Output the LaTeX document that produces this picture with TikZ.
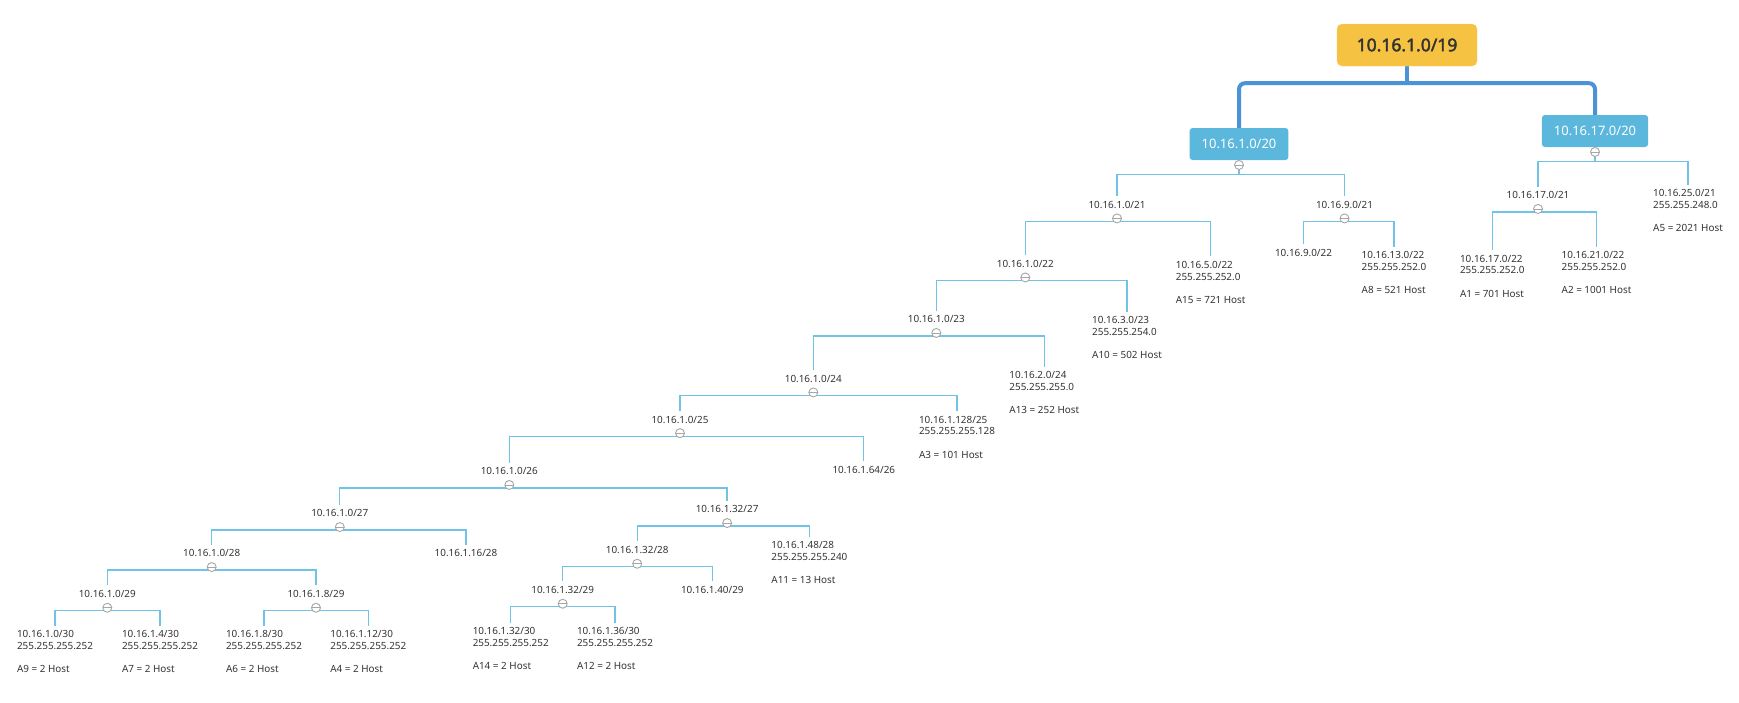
\documentclass[tikz,border=0pt]{standalone}
\usepackage{fontspec}
\setmainfont{Noto Sans}
\newfontfamily\rootfont{Noto Sans}[FakeBold=2.2]
\usetikzlibrary{positioning,backgrounds}
\definecolor{rootyellow}{HTML}{F5C242}
\definecolor{rootedge}{HTML}{F8D06A}
\definecolor{boxblue}{HTML}{5BB8DC}
\definecolor{trunkblue}{HTML}{4A93D6}
\definecolor{branchblue}{HTML}{6EC3E6}
\definecolor{txtgray}{HTML}{333333}
\definecolor{knobgray}{HTML}{A6A6A6}
\newcommand{\leafinfo}[3]{#1\\#2\\[11.7pt]#3}
\tikzset{
  rootbox/.style={fill=rootyellow, draw=rootedge, rounded corners=5pt, minimum width=140pt, minimum height=42pt, font=\rootfont\fontsize{17.5}{20}\selectfont, text=txtgray},
  subbox/.style={fill=boxblue, rounded corners=3pt, minimum height=32pt, inner xsep=12pt, font=\fontsize{13}{15}\selectfont, text=white},
  txt/.style={font=\fontsize{9.9}{11.7}\selectfont, text=txtgray, inner xsep=0pt, inner ysep=5pt, anchor=north},
  lbl/.style={txt, text height=7.1pt, text depth=0pt},
  leaf/.style={txt, align=left},
  knob/.style={circle, draw=knobgray, fill=white, line width=0.9pt, minimum size=9pt, inner sep=0pt,
    path picture={\draw[knobgray, line width=0.9pt] ([xshift=-4.5pt]path picture bounding box.center) -- ([xshift=4.5pt]path picture bounding box.center);}},
  twig/.style={branchblue, line width=1.3pt},
  trunk/.style={trunkblue, line width=4pt}
}
\begin{document}
\begin{tikzpicture}[x=1pt, y=-1pt]
\useasboundingbox (0,0) rectangle (1739,702);
\node[rootbox] (root) at (1407,45) {10.16.1.0/19};
\node[subbox] (L20) at (1239,144) {10.16.1.0/20};
\node[subbox] (R20) at (1595,131) {10.16.17.0/20};
\node[knob, below=-0.2pt of L20] (m20a) {};
\node[knob, below=-0.2pt of R20] (m20b) {};

\node[lbl] (n21a) at (1117,196) {10.16.1.0/21};
\node[lbl] (n21b) at (1344.5,196) {10.16.9.0/21};
\node[lbl] (n21c) at (1538,186.5) {10.16.17.0/21};
\node[lbl] (n22a) at (1025.3,255) {10.16.1.0/22};
\node[lbl] (n22b) at (1303.5,244.3) {10.16.9.0/22};
\node[lbl] (n23a) at (936.3,310.5) {10.16.1.0/23};
\node[lbl] (n24a) at (813.3,370) {10.16.1.0/24};
\node[lbl] (n25a) at (680,410.7) {10.16.1.0/25};
\node[lbl] (n26a) at (509.3,462.5) {10.16.1.0/26};
\node[lbl] (n26b) at (863.8,461.3) {10.16.1.64/26};
\node[lbl] (n27a) at (339.8,504.6) {10.16.1.0/27};
\node[lbl] (n27b) at (727.1,500.6) {10.16.1.32/27};
\node[lbl] (n28a) at (211.7,544.6) {10.16.1.0/28};
\node[lbl] (n28b) at (637.2,541.3) {10.16.1.32/28};
\node[lbl] (n28c) at (466,544.6) {10.16.1.16/28};
\node[lbl] (n29a) at (107.3,585.3) {10.16.1.0/29};
\node[lbl] (n29b) at (316,585.3) {10.16.1.8/29};
\node[lbl] (n29c) at (562.7,581.3) {10.16.1.32/29};
\node[lbl] (n29d) at (712.3,581.3) {10.16.1.40/29};

\foreach \n in {21a,21b,21c,22a,23a,24a,25a,26a,27a,27b,28a,28b,29a,29b,29c}
  \node[knob, below=0pt of n\n] (m\n) {};

\node[leaf] (a5) at (1688,184.5) {\leafinfo{10.16.25.0/21}{255.255.248.0}{A5 = 2021 Host}};
\node[leaf] (a15) at (1210.7,256) {\leafinfo{10.16.5.0/22}{255.255.252.0}{A15 = 721 Host}};
\node[leaf] (a8) at (1394,246.5) {\leafinfo{10.16.13.0/22}{255.255.252.0}{A8 = 521 Host}};
\node[leaf] (a1) at (1492.3,249.8) {\leafinfo{10.16.17.0/22}{255.255.252.0}{A1 = 701 Host}};
\node[leaf] (a2) at (1596.5,246.5) {\leafinfo{10.16.21.0/22}{255.255.252.0}{A2 = 1001 Host}};
\node[leaf] (a10) at (1127,311.5) {\leafinfo{10.16.3.0/23}{255.255.254.0}{A10 = 502 Host}};
\node[leaf] (a13) at (1044.3,366.5) {\leafinfo{10.16.2.0/24}{255.255.255.0}{A13 = 252 Host}};
\node[leaf] (a3) at (957,410.8) {\leafinfo{10.16.1.128/25}{255.255.255.128}{A3 = 101 Host}};
\node[leaf] (a11) at (809.4,536.5) {\leafinfo{10.16.1.48/28}{255.255.255.240}{A11 = 13 Host}};
\node[leaf] (a9) at (55,625.5) {\leafinfo{10.16.1.0/30}{255.255.255.252}{A9 = 2 Host}};
\node[leaf] (a7) at (160,625.5) {\leafinfo{10.16.1.4/30}{255.255.255.252}{A7 = 2 Host}};
\node[leaf] (a6) at (264,625.5) {\leafinfo{10.16.1.8/30}{255.255.255.252}{A6 = 2 Host}};
\node[leaf] (a4) at (368.3,625.5) {\leafinfo{10.16.1.12/30}{255.255.255.252}{A4 = 2 Host}};
\node[leaf] (a14) at (510.7,622.5) {\leafinfo{10.16.1.32/30}{255.255.255.252}{A14 = 2 Host}};
\node[leaf] (a12) at (615,622.5) {\leafinfo{10.16.1.36/30}{255.255.255.252}{A12 = 2 Host}};

\begin{pgfonlayer}{background}
\path (root.south) ++(0,17) coordinate (fork);
\draw[trunk] (root.south) -- (fork);
\draw[trunk, rounded corners=6pt] (fork) -| (L20.north);
\draw[trunk, rounded corners=6pt] (fork) -| (R20.north);
\foreach \p/\c in {m20a/n21a, m20a/n21b, m20b/n21c, m20b/a5}
  \draw[twig] (\p.center) -- ++(0,9.5) -| (\c.north);
\foreach \p/\c in {m21a/n22a, m21a/a15, m21b/n22b, m21b/a8, m21c/a1, m21c/a2,
    m22a/n23a, m22a/a10, m23a/n24a, m23a/a13, m24a/n25a, m24a/a3,
    m25a/n26a, m25a/n26b, m26a/n27a, m26a/n27b, m27a/n28a, m27a/n28c,
    m27b/n28b, m27b/a11, m28a/n29a, m28a/n29b, m28b/n29c, m28b/n29d,
    m29a/a9, m29a/a7, m29b/a6, m29b/a4, m29c/a14, m29c/a12}
  \draw[twig] (\p.center) -- ++(0,3) -| (\c.north);
\end{pgfonlayer}
\end{tikzpicture}
\end{document}
